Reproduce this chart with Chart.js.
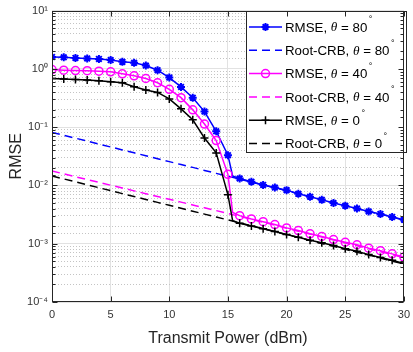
<!DOCTYPE html>
<html><head><meta charset="utf-8">
<script src="https://cdn.jsdelivr.net/npm/chart.js@4/dist/chart.umd.min.js"></script>
<style>html,body{margin:0;padding:0;background:#fff;overflow:hidden}#wrap{width:413px;height:352px;overflow:hidden}</style>
</head><body><div id="wrap"><canvas id="c" width="416" height="352"></canvas></div>
<script>
// ---- data ----
const rmsePower = [0,1,2,3,4,5,6,7,8,9,10,11,12,13,14,15,15.4,16,17,18,19,20,21,22,23,24,25,26,27,28,29,30];
const crbPower  = [0,1,2,3,4,5,6,7,8,9,10,11,12,13,14,15,16,17,18,19,20,21,22,23,24,25,26,27,28,29,30];
const rmse80 = [1.60,1.58,1.54,1.51,1.48,1.42,1.32,1.27,1.14,0.95,0.71,0.49,0.32,0.185,0.085,0.033,0.0145,0.0132,0.0116,0.0102,0.0092,0.0083,0.0072,0.0064,0.00566,0.00498,0.00448,0.00403,0.00358,0.00324,0.00288,0.00259];
const rmse40 = [0.973,0.95,0.936,0.93,0.914,0.889,0.822,0.76,0.684,0.578,0.445,0.321,0.198,0.113,0.0588,0.0155,0.00344,0.00303,0.00266,0.00239,0.00213,0.00187,0.00168,0.00148,0.00133,0.00118,0.00106,0.00096,0.00084,0.00076,0.00067,0.00059];
const rmse0  = [0.684,0.668,0.657,0.642,0.625,0.601,0.578,0.494,0.434,0.395,0.305,0.206,0.134,0.065,0.0362,0.0069,0.00249,0.00224,0.00202,0.00180,0.00162,0.00144,0.00129,0.00115,0.00104,0.00093,0.00082,0.00074,0.00065,0.00058,0.00052,0.00046];
const crb80 = [0.0814,0.0726,0.0647,0.0576,0.0513,0.0457,0.0407,0.0363,0.0323,0.0288,0.0256,0.0228,0.0204,0.0181,0.0161,0.0144,0.0128,0.0114,0.0102,0.0091,0.0081,0.0072,0.0064,0.0057,0.0051,0.0045,0.0040,0.0036,0.0032,0.0029,0.0025];
const crb40 = [0.0177,0.0158,0.0141,0.0126,0.0113,0.0101,0.00903,0.00807,0.00722,0.00646,0.00578,0.00517,0.00462,0.00413,0.00370,0.00330,0.00295,0.00262,0.00234,0.00208,0.00185,0.00164,0.00147,0.00130,0.00116,0.00103,0.00092,0.00082,0.00073,0.00065,0.00058];
const crb0  = [0.0145,0.01294,0.01152,0.01026,0.00914,0.00813,0.00724,0.00645,0.00575,0.00512,0.00456,0.00406,0.00362,0.00322,0.00287,0.00256,0.00228,0.00203,0.00181,0.00161,0.00143,0.00128,0.00114,0.00101,0.00090,0.00080,0.00071,0.00064,0.00057,0.00050,0.00045];
const seriesLabels = ['RMSE, θ = 80°','Root-CRB, θ = 80°','RMSE, θ = 40°','Root-CRB, θ = 40°','RMSE, θ = 0°','Root-CRB, θ = 0°'];
const xTickLabels = ['0','5','10','15','20','25','30'];
const yTickLabels = ['10⁻⁴','10⁻³','10⁻²','10⁻¹','10⁰','10¹'];
const xTitle = 'Transmit Power (dBm)';
const yTitle = 'RMSE';

const toXY = (xs, ys) => xs.map((x, i) => ({x, y: ys[i]}));
const markerRadius = c => (c.raw && Number.isInteger(c.raw.x)) ? 4 : 0;

function rmseSet(label, ys, color, style) {
  return {label, data: toXY(rmsePower, ys), borderColor: color, backgroundColor: 'rgba(0,0,0,0)',
    pointBorderColor: color, pointBackgroundColor: 'rgba(0,0,0,0)', borderWidth: 1.5,
    pointStyle: style, pointRadius: markerRadius, pointBorderWidth: style === 'star' ? 2 : 1.5,
    tension: 0, fill: false};
}
function crbSet(label, ys, color) {
  return {label, data: toXY(crbPower, ys), borderColor: color, borderWidth: 1.5,
    borderDash: [8, 5], pointRadius: 0, tension: 0, fill: false};
}
const datasets = [
  rmseSet(seriesLabels[0], rmse80, '#0000ff', 'star'),
  crbSet(seriesLabels[1], crb80, '#0000ff'),
  rmseSet(seriesLabels[2], rmse40, '#ff00ff', 'circle'),
  crbSet(seriesLabels[3], crb40, '#ff00ff'),
  rmseSet(seriesLabels[4], rmse0, '#000000', 'cross'),
  crbSet(seriesLabels[5], crb0, '#000000')
];
datasets.forEach((d, i) => d.order = datasets.length - i);

const isDecade = v => { const l = Math.log10(v); return Math.abs(l - Math.round(l)) < 1e-6; };

const framePlugin = {
  id: 'frame',
  afterDraw(chart) {
    const ctx = chart.ctx, a = chart.chartArea;
    const L = Math.round(a.left) + 0.5, R = Math.round(a.right) - 0.5, T = Math.round(a.top) + 0.5, B = Math.round(a.bottom) - 0.5;
    ctx.save();
    ctx.strokeStyle = '#262626'; ctx.lineWidth = 1;
    ctx.beginPath();
    chart.scales.y.ticks.forEach(t => {
      const y = Math.round(chart.scales.y.getPixelForValue(t.value)) + 0.5;
      const len = isDecade(t.value) ? 5 : 3;
      ctx.moveTo(L, y); ctx.lineTo(L + len, y);
      ctx.moveTo(R, y); ctx.lineTo(R - len, y);
    });
    chart.scales.x.ticks.forEach(t => {
      const x = Math.round(chart.scales.x.getPixelForValue(t.value)) + 0.5;
      ctx.moveTo(x, B); ctx.lineTo(x, B - 5);
      ctx.moveTo(x, T); ctx.lineTo(x, T + 5);
    });
    ctx.stroke();
    ctx.strokeRect(L, T, R - L, B - T);
    ctx.restore();
  }
};

const legendPlugin = {
  id: 'boxLegend',
  afterDatasetsDraw(chart) {
    const ctx = chart.ctx;
    const bx = 246.5, by = 11.5, bw = 160, bh = 141;
    ctx.save();
    ctx.fillStyle = '#fff'; ctx.fillRect(bx, by, bw, bh);
    ctx.strokeStyle = '#262626'; ctx.lineWidth = 1; ctx.strokeRect(bx, by, bw, bh);
    chart.data.datasets.forEach((d, i) => {
      const y = 27 + i * 23.3;
      ctx.save();
      ctx.strokeStyle = d.borderColor; ctx.lineWidth = 1.5;
      ctx.setLineDash(d.borderDash || []);
      ctx.beginPath(); ctx.moveTo(249, y); ctx.lineTo(282, y); ctx.stroke();
      ctx.setLineDash([]);
      if (d.pointStyle) {
        ctx.fillStyle = 'rgba(0,0,0,0)';
        ctx.strokeStyle = d.borderColor;
        ctx.lineWidth = d.pointBorderWidth;
        Chart.helpers.drawPoint(ctx, {pointStyle: d.pointStyle, rotation: 0, radius: 4, borderWidth: d.pointBorderWidth}, 265.5, y);
      }
      ctx.restore();
      const m = d.label.match(/^(.*)θ(.*)°$/);
      let x = 285;
      ctx.fillStyle = '#000'; ctx.textBaseline = 'middle'; ctx.textAlign = 'left';
      ctx.font = '13.3px "Liberation Sans", Arial, sans-serif';
      ctx.fillText(m[1], x, y + 1); x += ctx.measureText(m[1]).width;
      ctx.font = 'italic 13.3px "Liberation Serif", serif';
      ctx.fillText('θ', x, y + 1); x += ctx.measureText('θ').width;
      ctx.font = '13.3px "Liberation Sans", Arial, sans-serif';
      ctx.fillText(m[2], x, y + 1); x += ctx.measureText(m[2]).width + 1.5;
      ctx.font = '9px "Liberation Sans", Arial, sans-serif';
      ctx.fillText('°', x, y - 7);
    });
    ctx.restore();
  }
};

new Chart(document.getElementById('c'), {
  type: 'line',
  data: {datasets},
  options: {
    responsive: false, animation: false, devicePixelRatio: 1,
    layout: {padding: {top: 8, right: 0, left: 0, bottom: 0}},
    plugins: {legend: {display: false}, tooltip: {enabled: false}},
    scales: {
      x: {
        type: 'linear', min: 0, max: 30,
        ticks: {stepSize: 5, color: '#333', font: {family: '"Liberation Sans", Arial, sans-serif', size: 11}, padding: 6,
          callback: v => xTickLabels[Math.round(v / 5)] ?? ''},
        grid: {color: '#e2e2e2', drawTicks: false},
        border: {display: false},
        title: {display: true, text: xTitle, color: '#262626', font: {family: '"Liberation Sans", Arial, sans-serif', size: 16}, padding: {top: 0, bottom: 4}},
        afterFit: s => { s.height = 50; }
      },
      y: {
        type: 'logarithmic', min: 1e-4, max: 10,
        ticks: {autoSkip: false, color: '#333', font: {family: '"Liberation Sans", Arial, sans-serif', size: 11}, padding: 4,
          callback: v => isDecade(v) ? yTickLabels[Math.round(Math.log10(v)) + 4] : ''},
        grid: {color: c => (c.tick && isDecade(c.tick.value)) ? '#e2e2e2' : '#c4c4c4', drawTicks: false},
        border: {display: false, dash: c => (c.tick && isDecade(c.tick.value)) ? [] : [1, 2]},
        title: {display: true, text: yTitle, color: '#262626', font: {family: '"Liberation Sans", Arial, sans-serif', size: 16}, padding: {top: 7, bottom: 2}},
        afterFit: s => { s.width = 52; }
      }
    }
  },
  plugins: [legendPlugin, framePlugin]
});
</script></body></html>
